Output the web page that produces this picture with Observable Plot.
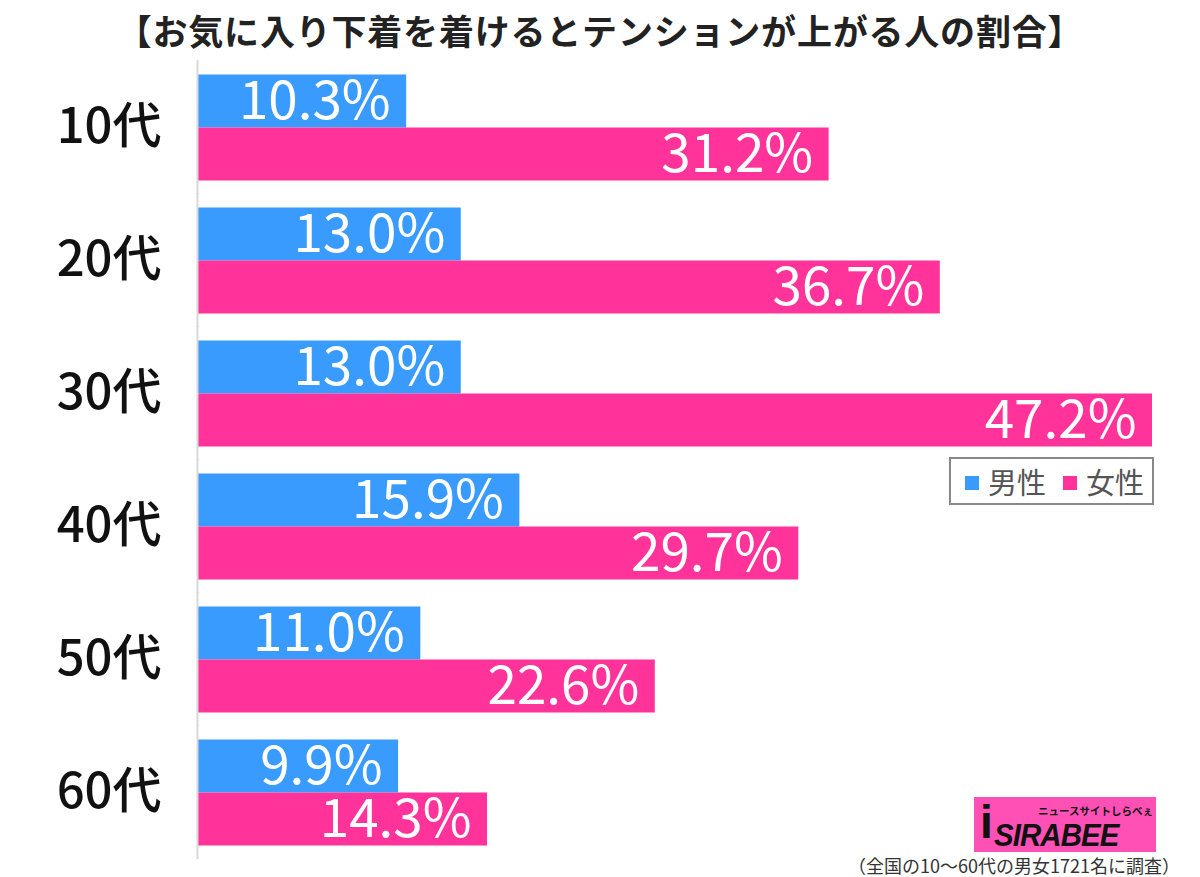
<!DOCTYPE html>
<html><head><meta charset="utf-8">
<script src="https://cdn.jsdelivr.net/npm/d3@7"></script>
<script src="https://cdn.jsdelivr.net/npm/@observablehq/plot@0.6"></script>
<style>
html,body{margin:0;padding:0;background:#fff;}
#wrap{position:relative;width:1200px;height:877px;overflow:hidden;font-family:"Noto Sans CJK JP","Noto Sans",sans-serif;}
#title{position:absolute;left:0;width:1200px;top:4px;text-align:center;font-size:35px;font-weight:bold;color:#222;letter-spacing:0.8px;}
#legend{position:absolute;left:949px;top:457px;width:201px;height:44px;border:2px solid #888;box-sizing:content-box;font-size:29px;color:#555;}
#legend .it{position:absolute;top:2px;line-height:40px;}
#legend .sw{display:inline-block;width:14px;height:14px;margin-right:9px;vertical-align:middle;position:relative;top:-3px;}
#logo{position:absolute;left:974px;top:797px;width:182px;height:55px;background:#ff50b6;overflow:hidden;}
#logo .big{position:absolute;left:20px;top:25px;font-family:"Liberation Sans",sans-serif;font-weight:bold;font-style:italic;font-size:32px;line-height:26px;color:#111;letter-spacing:-1px;transform:scaleX(0.92);transform-origin:left;white-space:nowrap;}
#logo .small{position:absolute;left:64px;top:8px;font-size:10.5px;line-height:12px;font-weight:bold;color:#111;white-space:nowrap;}
#logo .i{position:absolute;left:6px;top:2px;font-family:"Liberation Sans",sans-serif;font-weight:bold;font-size:46px;line-height:46px;color:#111;}
#caption{position:absolute;left:848px;top:854px;font-size:18px;line-height:22px;color:#333;white-space:nowrap;}
</style></head>
<body>
<div id="wrap">
<div id="chart"></div>
<div id="title"></div>
<div id="legend"></div>
<div id="logo"><span class="i">i</span><span class="small">ニュースサイトしらべぇ</span><span class="big">SIRABEE</span></div>
<div id="caption"></div>
</div>
<script>
const titleText = "【お気に入り下着を着けるとテンションが上がる人の割合】";
const captionText = "（全国の10〜60代の男女1721名に調査）";
const ages = ["10代","20代","30代","40代","50代","60代"];
const sexes = ["男性","女性"];
const maleValues = [10.3, 13.0, 13.0, 15.9, 11.0, 9.9];
const femaleValues = [31.2, 36.7, 47.2, 29.7, 22.6, 14.3];
const colors = ["#3a9bff", "#ff3399"];

const data = [];
ages.forEach((a, i) => {
  data.push({age: a, sex: sexes[0], value: maleValues[i]});
  data.push({age: a, sex: sexes[1], value: femaleValues[i]});
});

document.getElementById("title").textContent = titleText;
document.getElementById("caption").textContent = captionText;
const lg = document.getElementById("legend");
const lx = [14, 112];
sexes.forEach((s, i) => {
  const it = document.createElement("div");
  it.className = "it";
  it.style.left = lx[i] + "px";
  it.innerHTML = `<span class="sw" style="background:${colors[i]}"></span>${s}`;
  lg.appendChild(it);
});

const chart = Plot.plot({
  width: 1200,
  height: 877,
  marginTop: 58.5,
  marginBottom: 16.5,
  marginLeft: 198,
  marginRight: 48,
  style: {fontFamily: '"Noto Sans CJK JP","Noto Sans",sans-serif', background: "transparent"},
  x: {domain: [0, 47.2], axis: null},
  y: {domain: sexes, axis: null, padding: 0},
  fy: {domain: ages, paddingInner: 0.2, paddingOuter: 0.1, axis: null, label: null},
  color: {domain: sexes, range: colors},
  marks: [
    Plot.barX(data, {x: "value", y: "sex", fy: "age", fill: "sex"}),
    Plot.ruleX([0], {stroke: "#d8d8d8", strokeWidth: 2, dx: -1, insetTop: -14, insetBottom: -14}),
    Plot.text(data, {x: "value", y: "sex", fy: "age", text: d => d.value.toFixed(1) + "%",
      textAnchor: "end", dx: -16, dy: 1, fill: "white", fontSize: 53}),
    Plot.axisFy({anchor: "left", tickSize: 0, tickPadding: 37, fontSize: 49, fontWeight: 500, fill: "#111", label: null})
  ]
});
document.getElementById("chart").appendChild(chart);
</script>
</body></html>
